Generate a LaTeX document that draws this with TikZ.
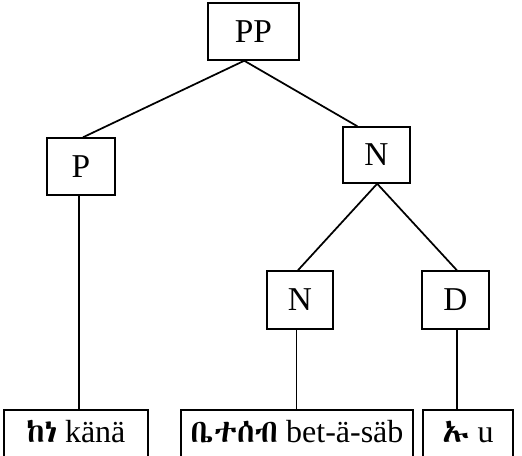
\documentclass[tikz,border=0pt]{standalone}
\usepackage{fontspec}
\usetikzlibrary{calc}
\setmainfont{Liberation Serif}
\IfFontExistsTF{Abyssinica SIL}{\newfontfamily\eth{Abyssinica SIL}}{%
  \IfFontExistsTF{FreeSerif.otf}{\newfontfamily\eth{FreeSerif.otf}}{%
    \IfFontExistsTF{FreeSerif}{\newfontfamily\eth{FreeSerif}}{\newfontfamily\eth{DejaVu Sans}}}}
\begin{document}
\begin{tikzpicture}[x=0.75pt,y=-0.75pt,
  catbox/.style={draw, line width=1.1pt, inner sep=0pt, font=\fontsize{25}{28}\selectfont},
  leafbox/.style={draw, line width=1.1pt, inner sep=0pt, text height=5pt, text depth=0pt, font=\fontsize{24}{28}\selectfont},
  edge/.style={line width=1.3pt}]
\useasboundingbox (0,0) rectangle (522,456);
\clip (0,0) rectangle (522,456);
\node[catbox, minimum width=68.25pt, minimum height=42.75pt] (PP) at (253.5,31.5) {PP};
\node[catbox, minimum width=51pt, minimum height=42.75pt] (P) at (81,166.5) {P};
\node[catbox, minimum width=50.25pt, minimum height=42pt] (N1) at (376.5,155) {N};
\node[catbox, minimum width=49.5pt, minimum height=43.5pt] (N2) at (300,300) {N};
\node[catbox, minimum width=50.25pt, minimum height=43.5pt] (D) at (455.5,300) {D};
\node[leafbox, minimum width=108pt, minimum height=43.5pt] (B1) at (76,439) {{\eth ከነ} känä};
\node[leafbox, minimum width=174pt, minimum height=43.5pt] (B2) at (297,439) {{\eth ቤተሰብ} bet-ä-säb};
\node[leafbox, minimum width=67.5pt, minimum height=43.5pt] (B3) at (468,439) {{\eth ኡ} u};
\coordinate (ppb) at ($(PP.south west)!0.40!(PP.south east)$);
\coordinate (pt) at ($(P.north west)!0.53!(P.north east)$);
\coordinate (pb) at ($(P.south west)!0.47!(P.south east)$);
\coordinate (n1t) at ($(N1.north west)!0.22!(N1.north east)$);
\coordinate (n1b) at ($(N1.south west)!0.51!(N1.south east)$);
\coordinate (n2t) at ($(N2.north west)!0.47!(N2.north east)$);
\coordinate (n2b) at ($(N2.south west)!0.45!(N2.south east)$);
\coordinate (dt) at ($(D.north west)!0.52!(D.north east)$);
\coordinate (db) at ($(D.south west)!0.52!(D.south east)$);
\draw[edge] (pt) -- (ppb) -- (n1t);
\draw[edge] (n2t) -- (n1b) -- (dt);
\draw[edge] (pb) -- (pb |- B1.north);
\draw[edge] (n2b) -- (n2b |- B2.north);
\draw[edge] (db) -- (db |- B3.north);
\end{tikzpicture}
\end{document}
